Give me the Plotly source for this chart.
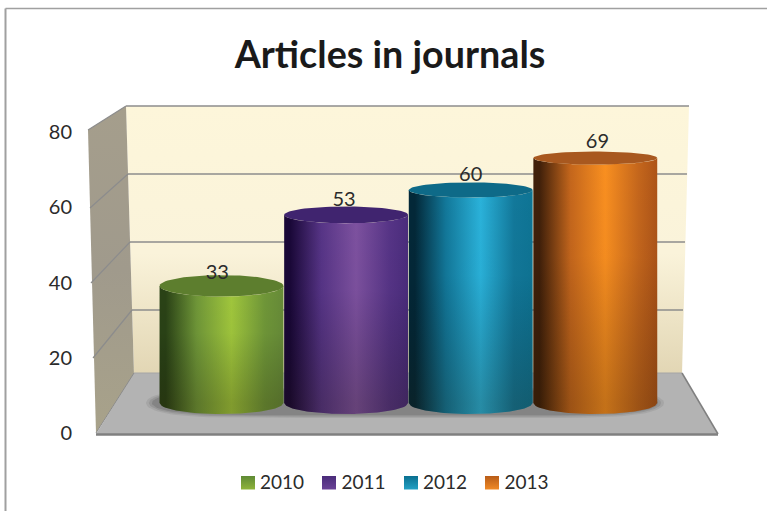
import plotly.graph_objects as go
import numpy as np

# ---- data ----
years = ["2010", "2011", "2012", "2013"]
values = [33, 53, 60, 69]
axis_ticks = [0, 20, 40, 60, 80]
title_text = "Articles in journals"

# ---- style ----
W, H = 767, 511
FONT = "Lato, Carlito, sans-serif"
INK = "#2b2b2b"
shade_left = ["#2a4216", "#1a0838", "#032838", "#40200a"]
shade_mid = ["#6f9638", "#563486", "#12789a", "#c4661c"]
shade_peak = ["#a0c63c", "#7d519f", "#2ab2da", "#f98f20"]
shade_right = ["#668a38", "#4a2c7c", "#0e7494", "#ad5418"]
top_colors = ["#5d7e2e", "#40246f", "#0e6a88", "#a8581f"]
legend_top = ["#8fb43a", "#6a4296", "#23a0c4", "#f08a25"]
legend_bot = ["#5f8a35", "#4a2c7a", "#0a7090", "#b85c18"]

# category index -> pixel, value -> pixel for the cylinders
X0, DX = 221.5, 124.6
Y0, DY = 403.0, 3.55
HALF_W = 0.497          # half bar width, in category units


def top_semi(v):
    return 14.5 - 0.115 * v


def label_gap(v):
    return 11.5 + 0.11 * (v - 33)


fig = go.Figure()

# --- pixel frame decoration (base axes x / y) ---
def poly(xs, ys, **kw):
    fig.add_trace(go.Scatter(x=xs, y=ys, mode="lines", fill="toself", line=dict(width=0),
                             hoverinfo="skip", showlegend=False, xaxis="x", yaxis="y", **kw))


def seg(xs, ys, color="#8c8c8c", width=1.5):
    fig.add_trace(go.Scatter(x=xs, y=ys, mode="lines", line=dict(color=color, width=width),
                             hoverinfo="skip", showlegend=False, xaxis="x", yaxis="y"))


# chart frame: top and left only reach the picture edge
seg([5.5, 767], [8.5, 8.5], color="#a0a0a0", width=1.5)
seg([5.5, 5.5], [8.5, 511], color="#a0a0a0", width=2)
# back wall
poly([126, 689, 682, 134, 126], [106, 106, 374, 374, 106],
     fillgradient=dict(type="vertical", start=106, stop=374,
                       colorscale=[[0, "#fdf6da"], [0.55, "#faf3da"], [1, "#e2d6b4"]]))
# left wall
poly([88, 126, 134, 96, 88], [130, 106, 374, 433, 130],
     fillgradient=dict(type="vertical", start=106, stop=433,
                       colorscale=[[0, "#a59e8c"], [0.5, "#a09a8c"], [1, "#a8a28a"]]))
# floor
poly([96, 718, 682, 134, 96], [434, 434, 373, 373, 434], fillcolor="#b3b3b3")
# grid lines on the back wall and left wall
seg([126, 689], [106, 106])
for yb, xb, xr, xl, yl in [(174, 128, 687, 90, 208), (242, 130, 685, 91, 283), (310, 132, 683, 93, 358)]:
    seg([xb, xr], [yb, yb])
    seg([xl, xb], [yl, yb], width=1.2)
seg([88, 126], [130, 106], width=1.2)
seg([96, 134], [433, 373], width=1)
seg([134, 682], [373, 373], color="#a5a5a5", width=1.2)
seg([682, 718], [373, 434], color="#808080", width=1.5)
seg([96, 718], [434.5, 434.5], color="#808080", width=2.5)
# soft floor shadow below the cylinders
theta = np.linspace(0, 2 * np.pi, 80)
for grow, alpha in [(9, 0.10), (6, 0.14), (3, 0.2)]:
    cx, rx = 405, 250 + grow
    sx = cx + rx * np.sign(np.cos(theta)) * np.abs(np.cos(theta)) ** 0.25
    sy = 403 + (11 + grow * 0.45) * np.sin(theta) ** 1
    poly(list(sx), list(sy), fillcolor=f"rgba(60,60,60,{alpha})")

# legend swatches
for i, sx0 in enumerate([241, 322, 404, 485]):
    poly([sx0, sx0 + 14, sx0 + 14, sx0, sx0], [476, 476, 489.5, 489.5, 476],
         fillgradient=dict(type="vertical", start=476, stop=489.5,
                           colorscale=[[0, legend_bot[i]], [1, legend_top[i]]]))

# --- tick axis (invisible points on y3) ---
fig.add_trace(go.Scatter(x=[0] * len(axis_ticks), y=axis_ticks, mode="markers", marker=dict(opacity=0),
                         hoverinfo="skip", showlegend=False, xaxis="x", yaxis="y3"))

# --- cylinders (x2 / y2) ---
for i, (yr, v) in enumerate(zip(years, values)):
    t = np.linspace(-1, 1, 61)
    xs = i + HALF_W * t
    top_front = v - (top_semi(v) / DY) * np.sqrt(1 - t ** 2)
    bot_front = 0 - (11 / DY) * np.sqrt(1 - t ** 2)
    px = list(xs) + list(xs[::-1]) + [xs[0]]
    py = list(top_front) + list(bot_front[::-1]) + [top_front[0]]
    fig.add_trace(go.Scatter(
        x=px, y=py, mode="lines", fill="toself", line=dict(width=0), hoverinfo="skip",
        showlegend=False, xaxis="x2", yaxis="y2",
        fillgradient=dict(type="horizontal", start=i - HALF_W, stop=i + HALF_W,
                          colorscale=[[0, shade_left[i]], [0.05, shade_left[i]], [0.3, shade_mid[i]],
                                      [0.58, shade_peak[i]], [0.85, shade_mid[i]], [1, shade_right[i]]])))
    fig.add_trace(go.Scatter(
        x=px, y=py, mode="lines", fill="toself", line=dict(width=0), hoverinfo="skip",
        showlegend=False, xaxis="x2", yaxis="y2",
        fillgradient=dict(type="vertical", start=0, stop=v,
                          colorscale=[[0, "rgba(30,20,0,0.24)"], [0.6, "rgba(0,0,0,0.02)"], [1, "rgba(0,0,0,0)"]])))
    # top ellipse
    ang = np.linspace(0, 2 * np.pi, 80)
    fig.add_trace(go.Scatter(
        x=i + HALF_W * np.cos(ang), y=v + (top_semi(v) / DY) * np.sin(ang),
        mode="lines", fill="toself", fillcolor=top_colors[i], line=dict(width=0), hoverinfo="skip",
        showlegend=False, xaxis="x2", yaxis="y2"))
    # value label (labels fan out slightly with the perspective)
    fig.add_trace(go.Scatter(
        x=[i + (i - 2) * 2.1 / DX], y=[v + label_gap(v) / DY], mode="text", text=[str(v)],
        textfont=dict(family=FONT, size=20, color=INK), hoverinfo="skip",
        showlegend=False, xaxis="x2", yaxis="y2"))

# --- legend entries (text comes from the legend, swatches are the gradient squares above) ---
for yr in years + [" "]:
    fig.add_trace(go.Scatter(x=[None], y=[None], mode="markers", name=yr,
                             marker=dict(symbol="square", size=14, color="rgba(0,0,0,0)"),
                             xaxis="x2", yaxis="y2"))

fig.update_layout(
    template="none",
    width=W, height=H, margin=dict(l=0, r=0, t=0, b=0, pad=0),
    paper_bgcolor="white", plot_bgcolor="rgba(0,0,0,0)",
    font=dict(family=FONT, color=INK),
    title=dict(text=f"<b>{title_text}</b>", x=390 / W, xanchor="center", y=1 - 55 / H, yanchor="middle",
               font=dict(family=FONT, size=37.7, color="#1a1a1a")),
    xaxis=dict(domain=[0, 1], range=[0, W], visible=False, fixedrange=True, automargin=False),
    yaxis=dict(domain=[0, 1], range=[H, 0], visible=False, fixedrange=True, automargin=False),
    xaxis2=dict(overlaying="x", range=[(0 - X0) / DX, (W - X0) / DX], visible=False, fixedrange=True),
    yaxis2=dict(overlaying="y", range=[(Y0 - H) / DY, Y0 / DY], visible=False, fixedrange=True),
    yaxis3=dict(domain=[(H - 433) / H, (H - 132) / H], range=[0, 80], tickvals=axis_ticks, anchor="free",
                position=72 / W, side="left", showgrid=False, zeroline=False, showline=False, ticks="",
                automargin=False, tickfont=dict(family=FONT, size=20, color=INK), fixedrange=True),
    legend=dict(orientation="h", x=220 / W, xanchor="left", y=1 - 482 / H, yanchor="middle",
                font=dict(family=FONT, size=19, color=INK), bgcolor="rgba(0,0,0,0)", itemclick=False,
                borderwidth=0, itemdoubleclick=False, itemwidth=30, entrywidth=36.5, entrywidthmode="pixels"),
    showlegend=True,
)

fig.write_html("out.html", config=dict(displayModeBar=False),
               post_script="document.body.style.margin='0';")
